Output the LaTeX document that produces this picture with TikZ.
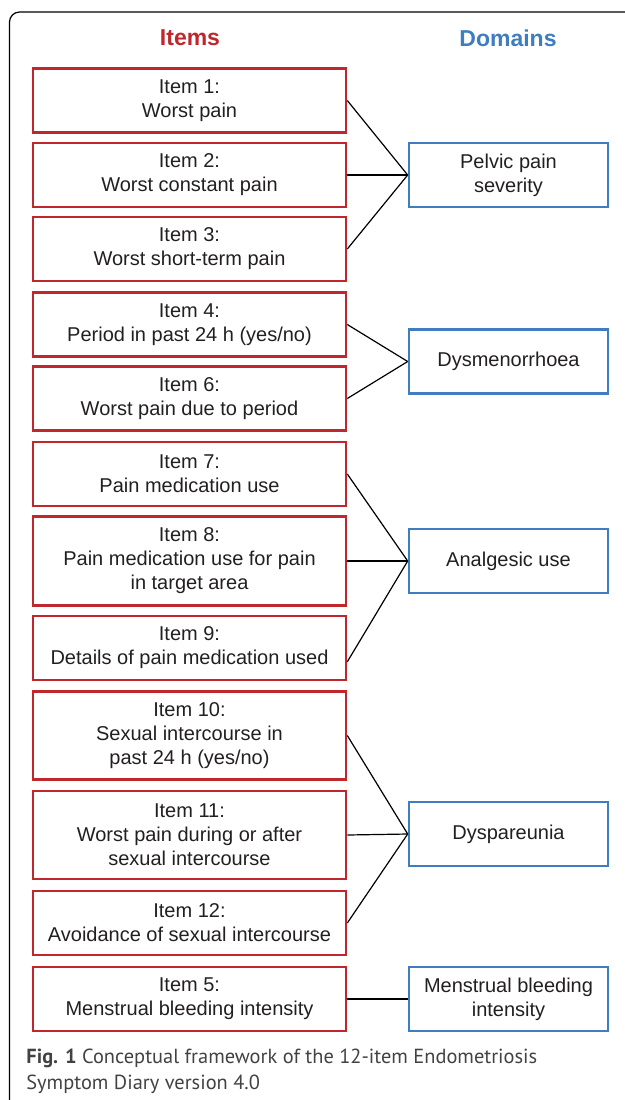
\documentclass[tikz,border=0pt]{standalone}
\usepackage{fontspec}
\setmainfont{Liberation Sans}
\newfontfamily\capfont{PT Sans}
\definecolor{itemred}{RGB}{192,39,45}
\definecolor{domblue}{RGB}{61,125,192}
\definecolor{txtgray}{RGB}{35,31,32}
\begin{document}
\begin{tikzpicture}[x=0.5pt, y=-0.5pt,
    itembox/.style={draw=itemred, line width=1.3pt, minimum width=156.5pt, inner sep=0pt,
        align=center, text=txtgray, font=\fontsize{10}{12}\selectfont},
    dombox/.style={draw=domblue, line width=1.3pt, minimum width=99.5pt, minimum height=32pt,
        inner sep=0pt, align=center, text=txtgray, font=\fontsize{10}{12}\selectfont},
    head/.style={font=\bfseries\fontsize{11.5}{14}\selectfont},
    link/.style={line width=0.6pt, black}]
    \useasboundingbox (0,0) rectangle (625,1100);
    % Frame (top and left edges)
    \draw[line width=0.6pt, rounded corners=5pt] (9.5,1100) -- (9.5,12) -- (625,12);
    % Headers
    \node[head, text=itemred] (hitems) at (190,38) {Items};
    \node[head, text=domblue] (hdomains) at (508,38) {Domains};
    % Item boxes
    \foreach \n/\y/\h/\t in {i1/100.5/32/{Item 1:\\Worst pain},
                             i2/175/32/{Item 2:\\Worst constant pain},
                             i3/249/32/{Item 3:\\Worst short-term pain},
                             i4/324.5/32/{Item 4:\\Period in past 24 h (yes/no)},
                             i6/398.5/32/{Item 6:\\Worst pain due to period},
                             i7/474/32/{Item 7:\\Pain medication use},
                             i8/561/44.5/{Item 8:\\Pain medication use for pain\\in target area},
                             i9/648/32/{Item 9:\\Details of pain medication used},
                             i10/735.5/44/{Item 10:\\Sexual intercourse in\\past 24 h (yes/no)},
                             i11/835/44/{Item 11:\\Worst pain during or after\\sexual intercourse},
                             i12/923/32/{Item 12:\\Avoidance of sexual intercourse},
                             i5/999/32/{Item 5:\\Menstrual bleeding intensity}} {
        \node[itembox, minimum height=\h pt] (\n) at (189.5,\y) {\t};
    }
    % Domain boxes
    \foreach \n/\y/\t in {pelvic/175/{Pelvic pain\\severity},
                          dysmen/361.5/{Dysmenorrhoea},
                          analg/561/{Analgesic use},
                          dyspar/834/{Dyspareunia},
                          bleed/999/{Menstrual bleeding\\intensity}} {
        \node[dombox] (\n) at (508.5,\y) {\t};
    }
    % Links
    \foreach \a/\b in {i1/pelvic, i2/pelvic, i3/pelvic, i4/dysmen, i6/dysmen,
                       i7/analg, i8/analg, i10/dyspar, i11/dyspar, i12/dyspar, i5/bleed} {
        \draw[link] (\a.east) -- (\b.west);
    }
    \draw[link] (i9.-5.5) -- (analg.west);
    % Caption
    \node[anchor=north west, inner sep=0pt, align=left, text=txtgray!85,
          font=\capfont\fontsize{10.2}{13}\selectfont] (caption) at (26,1049)
          {\textbf{Fig. 1} Conceptual framework of the 12-item Endometriosis\\Symptom Diary version 4.0};
\end{tikzpicture}
\end{document}
